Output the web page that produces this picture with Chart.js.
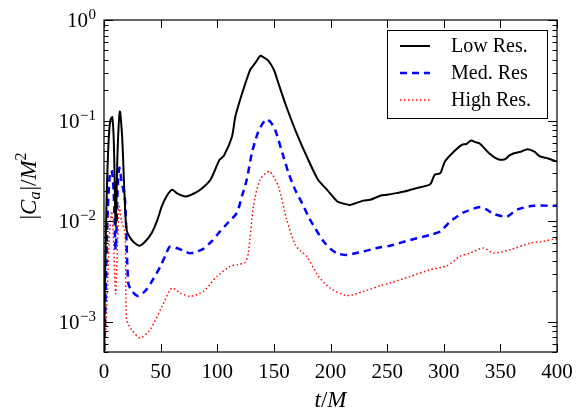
<!DOCTYPE html>
<html>
<head>
<meta charset="utf-8">
<script src="https://cdn.jsdelivr.net/npm/chart.js@4/dist/chart.umd.min.js"></script>
<style>
  html, body { margin: 0; padding: 0; background: #fff; }
  #wrap { width: 586px; height: 417px; }
</style>
</head>
<body>
<div id="wrap"><canvas id="chart" width="586" height="417"></canvas></div>
<script>
// ---- data (t/M vs |C_a|/M^2) ----
const lowT = [0, 1, 2.5, 4, 5.5, 7.3, 8.7, 10.3, 12, 14, 16, 18, 20, 25, 31, 36, 42, 47, 51, 55, 60, 65, 72, 78, 85, 94, 102, 106, 113, 116, 122, 129, 134, 138, 141, 145, 150, 154, 161, 170, 179, 189, 197, 206, 212, 217, 223, 229, 235, 244, 250, 258, 265, 276, 288, 292, 297, 301, 309, 316, 320, 324, 328, 332, 340, 348, 354, 358, 362, 368, 374, 380, 385, 392, 400];
const lowVals = [0.0004, 0.003, 0.02, 0.06, 0.1, 0.108, 0.06, 0.009, 0.05, 0.123, 0.07, 0.02, 0.0082, 0.0064, 0.0057, 0.0062, 0.0076, 0.0102, 0.014, 0.0175, 0.0205, 0.0188, 0.0176, 0.0185, 0.0205, 0.0258, 0.0407, 0.045, 0.069, 0.11, 0.187, 0.318, 0.38, 0.44, 0.425, 0.394, 0.32, 0.235, 0.138, 0.075, 0.044, 0.0258, 0.0205, 0.0157, 0.0149, 0.0145, 0.0152, 0.016, 0.0163, 0.0179, 0.0183, 0.019, 0.0197, 0.0213, 0.0233, 0.0289, 0.03, 0.0392, 0.0492, 0.0574, 0.0585, 0.0634, 0.061, 0.0587, 0.0474, 0.0413, 0.0413, 0.045, 0.0474, 0.049, 0.052, 0.049, 0.044, 0.042, 0.0392];

const medT = [0, 1.5, 3, 5, 6.8, 8.5, 10.3, 12, 13.5, 15.5, 18.6, 21.5, 25, 30.3, 37.7, 43, 49.5, 54, 58.3, 64, 70, 76, 82, 87.7, 95, 102.5, 110, 117.2, 122, 126.1, 130.5, 136.3, 143.1, 147, 151.1, 158.4, 163, 168.8, 175, 180.5, 187, 193.8, 200, 205.6, 214.4, 222, 229.1, 243.9, 252.7, 270.4, 288, 296.9, 305.7, 317.5, 332.2, 338, 344, 355.8, 364.6, 379.3, 400];
const medVals = [0.0004, 0.002, 0.01, 0.028, 0.032, 0.02, 0.0052, 0.02, 0.034, 0.025, 0.016, 0.0024, 0.002, 0.0018, 0.0021, 0.0026, 0.0035, 0.0045, 0.0056, 0.0054, 0.0051, 0.0048, 0.005, 0.0053, 0.0063, 0.0079, 0.0098, 0.012, 0.018, 0.026, 0.047, 0.078, 0.103, 0.097, 0.081, 0.044, 0.03, 0.0205, 0.015, 0.0111, 0.0083, 0.0063, 0.0053, 0.0048, 0.0046, 0.0048, 0.005, 0.0055, 0.0057, 0.0065, 0.0073, 0.0079, 0.0099, 0.0122, 0.0138, 0.013, 0.0118, 0.0111, 0.013, 0.0142, 0.0142];

const highT = [0, 1.5, 3, 5, 6.8, 8.5, 10.3, 12, 13.3, 15.5, 18.6, 20, 24.5, 31.8, 40.6, 51, 59.8, 67.2, 76, 87.7, 99.6, 111.3, 118, 124.6, 127.5, 131.9, 137.8, 146.1, 154, 161.4, 168.8, 174, 179.1, 189.4, 199.7, 214.4, 229.1, 243.9, 252.7, 270.4, 288, 302.8, 314.5, 323.4, 335.1, 344, 358.7, 376.4, 388, 397, 400];
const highVals = [0.0004, 0.0008, 0.002, 0.008, 0.0125, 0.006, 0.0019, 0.006, 0.014, 0.01, 0.0076, 0.00105, 0.00083, 0.00069, 0.00083, 0.0014, 0.00216, 0.00193, 0.00179, 0.002, 0.00282, 0.00355, 0.0037, 0.00389, 0.00482, 0.014, 0.0258, 0.0312, 0.0221, 0.0103, 0.00583, 0.005, 0.00447, 0.00282, 0.00216, 0.00182, 0.002, 0.00228, 0.00243, 0.00282, 0.00329, 0.0036, 0.00447, 0.00482, 0.0054, 0.00482, 0.0052, 0.00605, 0.0063, 0.00664, 0.0067];

const xTicks = [0, 50, 100, 150, 200, 250, 300, 350, 400];
const yDecades = [0, -1, -2, -3];
const seriesNames = ['Low Res.', 'Med. Res', 'High Res.'];

const SERIF = "'Liberation Serif', 'Times New Roman', serif";

function toPoints(ts, vs) {
    return ts.map((t, i) => ({ x: t, y: vs[i] }));
}

// draws the matplotlib-like frame, inward ticks, y tick labels, axis titles and legend
const decorPlugin = {
    id: 'decor',
    afterDatasetsDraw(chart) {
        const ctx = chart.ctx;
        const a = chart.chartArea;
        const xs = chart.scales.x;
        const ys = chart.scales.y;
        ctx.save();
        ctx.strokeStyle = '#000';
        ctx.lineWidth = 1.2;
        ctx.strokeRect(a.left, a.top, a.right - a.left, a.bottom - a.top);

        // x ticks (bottom and top, inward)
        ctx.lineWidth = 1;
        ctx.beginPath();
        xTicks.forEach(v => {
            const px = Math.round(xs.getPixelForValue(v)) + 0.5;
            ctx.moveTo(px, a.bottom); ctx.lineTo(px, a.bottom - 8);
            ctx.moveTo(px, a.top); ctx.lineTo(px, a.top + 8);
        });
        // y ticks, major + minor
        yDecades.forEach(e => {
            for (let k = 1; k <= 9; k++) {
                const v = k * Math.pow(10, e);
                if (v < ys.min || v > ys.max) continue;
                const py = Math.round(ys.getPixelForValue(v)) + 0.5;
                const len = k === 1 ? 9 : 4.5;
                ctx.moveTo(a.left, py); ctx.lineTo(a.left + len, py);
                ctx.moveTo(a.right, py); ctx.lineTo(a.right - len, py);
            }
        });
        // minor ticks of the decade below 1e-3
        for (let k = 2; k <= 9; k++) {
            const v = k * 1e-4;
            if (v < ys.min) continue;
            const py = Math.round(ys.getPixelForValue(v)) + 0.5;
            ctx.moveTo(a.left, py); ctx.lineTo(a.left + 4.5, py);
            ctx.moveTo(a.right, py); ctx.lineTo(a.right - 4.5, py);
        }
        ctx.stroke();

        // y tick labels 10^e
        ctx.fillStyle = '#000';
        ctx.textBaseline = 'alphabetic';
        yDecades.forEach(e => {
            const py = ys.getPixelForValue(Math.pow(10, e));
            const sup = e === 0 ? '0' : '\u2212' + (-e);
            ctx.font = '15px ' + SERIF;
            const sw = ctx.measureText(sup).width;
            const right = a.left - 8;
            ctx.textAlign = 'right';
            ctx.fillText(sup, right, py - 1);
            ctx.font = '21px ' + SERIF;
            ctx.fillText('10', right - sw - 0.5, py + 7);
        });

        // x axis title t/M
        const parts = [['t', 'italic 23px '], ['/', '23px '], ['M', 'italic 23px ']];
        let total = 0;
        parts.forEach(p => { ctx.font = p[1] + SERIF; total += ctx.measureText(p[0]).width; });
        let cx = (a.left + a.right) / 2 - total / 2;
        ctx.textAlign = 'left';
        parts.forEach(p => {
            ctx.font = p[1] + SERIF;
            ctx.fillText(p[0], cx, 407);
            cx += ctx.measureText(p[0]).width;
        });

        // y axis title |C_a|/M^2 (rotated)
        const yparts = [
            ['|', '23px ', 0], ['C', 'italic 23px ', 0], ['a', 'italic 16px ', 4],
            ['|/', '23px ', 0], ['M', 'italic 23px ', 0], ['2', '16px ', -10]
        ];
        let ytot = 0;
        yparts.forEach(p => { ctx.font = p[1] + SERIF; ytot += ctx.measureText(p[0]).width + (p[0] === 'a' ? 1 : 0); });
        ctx.save();
        ctx.translate(36, (a.top + a.bottom) / 2);
        ctx.rotate(-Math.PI / 2);
        let yx = -ytot / 2;
        yparts.forEach(p => {
            ctx.font = p[1] + SERIF;
            ctx.fillText(p[0], yx, p[2]);
            yx += ctx.measureText(p[0]).width + (p[0] === 'a' ? 1 : 0);
        });
        ctx.restore();

        // legend box
        const lx = 387, ly = 30, lw = 160, lh = 88;
        ctx.fillStyle = '#fff';
        ctx.fillRect(lx, ly, lw, lh);
        ctx.strokeStyle = '#000';
        ctx.lineWidth = 1;
        ctx.strokeRect(lx + 0.5, ly + 0.5, lw, lh);
        chart.data.datasets.forEach((ds, i) => {
            const ry = 46 + i * 27;
            ctx.save();
            ctx.strokeStyle = ds.borderColor;
            ctx.lineWidth = ds.borderWidth;
            ctx.setLineDash(ds.borderDash || []);
            ctx.beginPath();
            ctx.moveTo(400, ry); ctx.lineTo(430, ry);
            ctx.stroke();
            ctx.restore();
            ctx.fillStyle = '#000';
            ctx.font = '20px ' + SERIF;
            ctx.textAlign = 'left';
            ctx.fillText(ds.label, 451, ry + 6);
        });
        ctx.restore();
    }
};

new Chart(document.getElementById('chart'), {
    type: 'line',
    data: {
        datasets: [
            {
                label: seriesNames[0],
                data: toPoints(lowT, lowVals),
                borderColor: '#000000',
                borderWidth: 2,
                pointRadius: 0,
                tension: 0.25
            },
            {
                label: seriesNames[1],
                data: toPoints(medT, medVals),
                borderColor: '#0000ff',
                borderWidth: 2.5,
                borderDash: [7, 5],
                pointRadius: 0,
                tension: 0.25
            },
            {
                label: seriesNames[2],
                data: toPoints(highT, highVals),
                borderColor: '#ff0000',
                borderWidth: 1.5,
                borderDash: [1.5, 2.5],
                pointRadius: 0,
                tension: 0.25
            }
        ]
    },
    options: {
        responsive: false,
        animation: false,
        layout: { padding: { top: 20, right: 29, left: 0, bottom: 0 } },
        plugins: {
            legend: { display: false },
            tooltip: { enabled: false }
        },
        scales: {
            x: {
                type: 'linear',
                min: 0,
                max: 400,
                grid: { display: false, drawTicks: false },
                border: { display: false },
                ticks: {
                    stepSize: 50,
                    color: '#000',
                    padding: 8,
                    maxRotation: 0,
                    font: { family: SERIF, size: 21 }
                },
                afterFit: (scale) => { scale.height = 65; }
            },
            y: {
                type: 'logarithmic',
                min: 0.0005,
                max: 1,
                grid: { display: false, drawTicks: false },
                border: { display: false },
                ticks: { display: false },
                afterFit: (scale) => { scale.width = 104; }
            }
        }
    },
    plugins: [decorPlugin]
});
</script>
</body>
</html>
